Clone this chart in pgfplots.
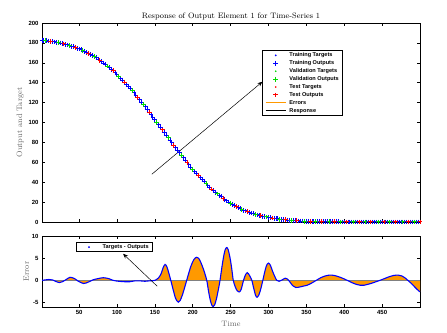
\documentclass[border=0pt]{standalone}
\usepackage{fontspec}
\setsansfont{Liberation Sans}
\usepackage{pgfplots}
\usepackage{pgfplotstable}
\pgfplotsset{compat=1.18}
\usepgfplotslibrary{fillbetween}
\usetikzlibrary{arrows.meta}

\definecolor{errorange}{rgb}{1,0.6,0}
\definecolor{valgreen}{rgb}{0,0.85,0}
\definecolor{labgray}{rgb}{0.4,0.4,0.4}

% response: training outputs
\pgfplotstableread{
t y
1 182.7
2.5 182.6
7.5 182.15
10 181.9
15 181.3
17.5 180.95
20 180.6
25 179.8
27.5 179.35
32.5 178.4
35 177.9
40 176.7
42.5 176.05
47.5 174.65
50 173.9
52.5 173.1
57.5 171.35
60 170.4
65 168.4
67.5 167.3
72.5 165.0
75 163.8
80 161.1
82.5 159.7
85 158.3
90 155.2
92.5 153.55
97.5 150.15
100 148.4
105 144.6
107.5 142.6
112.5 138.55
115 136.5
117.5 134.3
122.5 129.85
125 127.6
130 122.9
132.5 120.5
137.5 115.6
140 113.1
145 108.0
147.5 105.45
150 102.9
155 97.7
157.5 95.1
162.5 89.9
165 87.3
170 82.1
172.5 79.55
177.5 74.45
180 71.9
182.5 69.4
187.5 64.5
190 62.1
195 57.4
197.5 55.15
202.5 50.7
205 48.5
210 44.4
212.5 42.4
215 40.4
220 36.6
222.5 34.85
227.5 31.45
230 29.8
235 26.7
237.5 25.3
242.5 22.55
245 21.2
247.5 20.0
252.5 17.7
255 16.6
260 14.6
262.5 13.65
267.5 11.9
270 11.1
275 9.6
277.5 8.95
280 8.3
285 7.1
287.5 6.7
292.5 5.85
295 5.4
300 4.7
302.5 4.35
307.5 3.7
310 3.4
312.5 3.15
317.5 2.65
320 2.4
325 2.0
327.5 1.85
332.5 1.55
335 1.4
340 1.1
342.5 1.0
345 0.9
350 0.7
352.5 0.65
357.5 0.55
360 0.5
365 0.4
367.5 0.35
372.5 0.3
375 0.3
377.5 0.25
382.5 0.2
385 0.2
390 0.2
392.5 0.15
397.5 0.1
400 0.1
405 0.1
407.5 0.1
410 0.1
415 0.1
417.5 0.1
422.5 0.1
425 0.1
430 0.1
432.5 0.1
437.5 0.1
440 0.1
442.5 0.1
447.5 0.1
450 0.1
455 0.1
457.5 0.1
462.5 0.1
465 0.1
470 0.1
472.5 0.1
475 0.1
480 0.1
482.5 0.1
487.5 0.1
490 0.1
495 0.1
497.5 0.1
}\trainData

% validation outputs
\pgfplotstableread{
t y
5 182.4
22.5 180.2
37.5 177.3
55 172.3
70 166.2
87.5 156.75
102.5 146.5
120 132.1
135 118.1
152.5 100.3
167.5 84.7
185 66.9
200 52.9
217.5 38.5
232.5 28.25
250 18.8
265 12.7
282.5 7.7
297.5 5.05
315 2.9
330 1.7
347.5 0.8
362.5 0.45
380 0.2
395 0.1
412.5 0.1
427.5 0.1
445 0.1
460 0.1
477.5 0.1
492.5 0.1
}\valData

% test outputs
\pgfplotstableread{
t y
12.5 181.6
30 178.9
45 175.4
62.5 169.4
77.5 162.45
95 151.9
110 140.6
127.5 125.25
142.5 110.55
160 92.5
175 77.0
192.5 59.75
207.5 46.45
225 33.1
240 23.9
257.5 15.6
272.5 10.35
290 6.3
305 4.0
322.5 2.2
337.5 1.25
355 0.6
370 0.3
387.5 0.2
402.5 0.1
420 0.1
435 0.1
452.5 0.1
467.5 0.1
485 0.1
500 0.1
}\testData

% error (x 10^-3)
\pgfplotstableread{
t e
1 0
5 0.1
10 0.2
15 0.1
20 -0.3
24 -0.5
28 -0.3
33 0.2
38 0.7
44 0.4
49 -0.2
56 -0.7
62 -0.4
68 0.1
75 0.4
82 0.6
89 0.4
95 0.0
102 -0.2
110 -0.3
117 -0.3
124 -0.1
130 -0.1
137 -0.2
143 -0.1
150 0.0
155 0.6
158.5 1.6
161 2.9
163.5 3.6
166 3.0
168.5 1.6
171 0
174 -2.0
177 -3.9
179 -4.6
181 -4.9
183.5 -4.5
186.5 -3.2
189.5 -1.5
192 0
195 1.8
198 3.4
201.5 4.7
205 5.2
208.5 4.8
212 3.5
215.5 1.8
218.5 0
221 -2.6
223.5 -4.7
225.5 -5.7
227 -5.9
229 -5.5
231.5 -4.0
234 -1.9
236 0
238.5 3.0
241 5.6
243 7.0
245 7.4
247 6.8
249.5 4.8
251.5 2.6
253.5 0
256 -1.4
258.5 -2.3
261.5 -2.6
264 -2.0
267 0
269.5 1.2
272 1.75
275 1.1
278 0
280.5 -1.8
283 -3.4
285 -3.8
287.5 -3.2
290 -1.8
292.5 0
295 1.9
297.5 3.4
300 3.9
302.5 3.4
305.5 2.0
308.5 0.8
311 0
314 -0.2
318 0.1
322 0.5
325 0.3
328 -0.3
332 -1.2
336 -1.6
341 -1.5
346 -1.3
351 -1.1
357 -0.6
363 0
369 0.6
375 1.0
381 1.2
387 1.1
393 0.8
399 0.4
404 0
410 -0.5
416 -0.9
421 -1.1
426 -1.1
431 -0.9
437 -0.6
442 -0.3
447 0
453 0.4
459 0.8
465 1.1
471 1.2
476 1.0
480 0.6
484 0
488 -0.6
492 -1.3
496 -2.0
500 -2.6
}\errData

\pgfplotsset{
  every axis/.append style={
    scale only axis, width=378bp,
    xmin=1, xmax=500,
    xtick={50,100,...,450},
    axis line style={line width=0.6pt},
    major tick length=3bp,
    tick style={line width=0.5pt, black},
    tick label style={font=\sffamily\bfseries\fontsize{6}{7}\selectfont},
    /pgf/number format/assume math mode=true,
    label style={font=\fontsize{7.9}{9}\selectfont, text=labgray},
    legend style={font=\sffamily\bfseries\fontsize{5.6}{6.5}\selectfont,
      draw=black, line width=0.6pt, inner xsep=3bp, inner ysep=1bp,
      column sep=2.4bp, row sep=0.75bp,
      nodes={inner sep=0.9pt, text height=4.2pt, text depth=1.2pt}},
    legend cell align=left,
  },
  lineimg/.style={legend image code/.code={\draw[##1] (0bp,0bp) -- (20bp,0bp);}},
  markimg/.style={legend image code/.code={%
    \node[draw=none, fill=none, inner sep=0pt, minimum width=20bp, minimum height=1bp, anchor=west] at (0bp,0bp) {};
    \draw[##1] plot coordinates {(10bp,0bp)};}},
  outmark/.style={only marks, mark=+, mark size=2.4pt, mark options={line width=1pt}},
  tgtmark/.style={only marks, mark=*, mark size=0.5pt},
}

\begin{document}
\begin{tikzpicture}

\begin{axis}[
  at={(0,0)}, anchor=north west,
  height=199bp,
  ymin=0, ymax=200,
  ytick={0,20,...,200},
  xticklabels={},
  title={Response of Output Element 1 for Time-Series 1},
  title style={font=\fontsize{7.9}{9}\selectfont, yshift=-6.5pt},
  ylabel={Output and Target},
  ylabel shift=-2pt,
  clip=false,
  legend style={at={(0.582,0.862)}, anchor=north west},
]
\addplot[outmark, blue, forget plot] table {\trainData};
\addplot[outmark, valgreen, forget plot] table {\valData};
\addplot[outmark, red, forget plot] table {\testData};

\addlegendimage{tgtmark, markimg, draw=blue, fill=blue}
\addlegendentry{Training Targets}
\addlegendimage{outmark, markimg, draw=blue, fill=blue}
\addlegendentry{Training Outputs}
\addlegendimage{tgtmark, markimg, draw=valgreen, fill=valgreen}
\addlegendentry{Validation Targets}
\addlegendimage{outmark, markimg, draw=valgreen, fill=valgreen}
\addlegendentry{Validation Outputs}
\addlegendimage{tgtmark, markimg, draw=red, fill=red}
\addlegendentry{Test Targets}
\addlegendimage{outmark, markimg, draw=red, fill=red}
\addlegendentry{Test Outputs}
\addlegendimage{lineimg, draw=errorange, line width=0.9pt}
\addlegendentry{Errors}
\addlegendimage{lineimg, draw=black, line width=0.9pt}
\addlegendentry{Response}
\draw[-{Stealth[length=5pt,width=4pt]}, line width=0.5pt] (axis cs:146,48) -- (axis cs:292,141);
\end{axis}

\begin{axis}[
  at={(0,-213bp)}, anchor=north west,
  height=71bp,
  ymin=-6, ymax=10,
  ytick={-5,0,5,10},
  xlabel={Time}, ylabel={Error},
  ylabel shift=-4pt,
  legend style={at={(0.09,0.912)}, anchor=north west},
]
\addplot[draw=none, name path=err, smooth, forget plot] table {\errData};
\addplot[draw=none, name path=zero, forget plot] coordinates {(1,0) (500,0)};
\addplot[errorange, forget plot] fill between[of=err and zero];
\addplot[gray, line width=1pt, forget plot] coordinates {(1,0) (500,0)};
\addplot[blue, line width=1.1pt, smooth, forget plot] table {\errData};
\addlegendimage{tgtmark, markimg, draw=blue, fill=blue}
\addlegendentry{Targets - Outputs}
\draw[-{Stealth[length=5pt,width=4pt]}, line width=0.5pt] (axis cs:153,-1.3) -- (axis cs:108,6.0);
\node[anchor=south west, inner sep=1pt, font=\sffamily\fontsize{5.5}{6}\selectfont] at (rel axis cs:0,1) {$\times$10\textsuperscript{-3}};
\end{axis}
\path (-42bp,23bp) rectangle (405bp,-310bp);
\end{tikzpicture}
\end{document}
